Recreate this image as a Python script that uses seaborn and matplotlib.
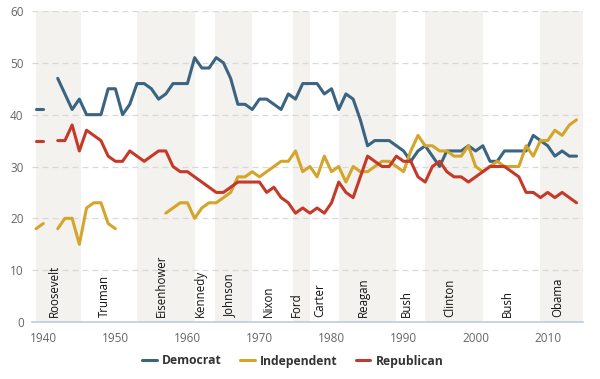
import numpy as np
import pandas as pd
import matplotlib
matplotlib.use("Agg")
import matplotlib.pyplot as plt
import seaborn as sns

# ---------------- data ----------------
years = list(range(1939, 2015))

democrat = [41, 41, None, 47, 44, 41, 43, 40, 40, 40, 45, 45, 40, 42, 46, 46, 45, 43, 44, 46,
            46, 46, 51, 49, 49, 51, 50, 47, 42, 42, 41, 43, 43, 42, 41, 44, 43, 46, 46, 46,
            44, 45, 41, 44, 43, 39, 34, 35, 35, 35, 34, 33, 31, 33, 34, 32, 30, 33, 33, 33,
            34, 33, 34, 31, 31, 33, 33, 33, 33, 36, 35, 34, 32, 33, 32, 32]

independent = [18, 19, None, 18, 20, 20, 15, 22, 23, 23, 19, 18, None, None, None, None, None, None, 21, 22,
               23, 23, 20, 22, 23, 23, 24, 25, 28, 28, 29, 28, 29, 30, 31, 31, 33, 29, 30, 28,
               32, 29, 30, 27, 30, 29, 29, 30, 31, 31, 30, 29, 33, 36, 34, 34, 33, 33, 32, 32,
               34, 30, 29, 30, 31, 30, 30, 30, 34, 32, 35, 35, 37, 36, 38, 39]

republican = [35, 35, None, 35, 35, 38, 33, 37, 36, 35, 32, 31, 31, 33, 32, 31, 32, 33, 33, 30,
              29, 29, 28, 27, 26, 25, 25, 26, 27, 27, 27, 27, 25, 26, 24, 23, 21, 22, 21, 22,
              21, 23, 27, 25, 24, 28, 32, 31, 30, 30, 32, 31, 31, 28, 27, 30, 31, 29, 28, 28,
              27, 28, 29, 30, 30, 30, 29, 28, 25, 25, 24, 25, 24, 25, 24, 23]

series_names = ["Democrat", "Independent", "Republican"]
series_colors = ["#3B6482", "#D4A52A", "#C43929"]

presidents = ["Roosevelt", "Truman", "Eisenhower", "Kennedy", "Johnson", "Nixon", "Ford",
              "Carter", "Reagan", "Bush", "Clinton", "Bush", "Obama"]
term_starts = [1939, 1945.2, 1953, 1961, 1963.85, 1969, 1974.6, 1977, 1981, 1989, 1993, 2001, 2009]

x_ticks = [1940, 1950, 1960, 1970, 1980, 1990, 2000, 2010]
y_ticks = [0, 10, 20, 30, 40, 50, 60]

# ---------------- build long table with segment ids (to keep gaps) ----------------
rows = []
for name, vals in zip(series_names, [democrat, independent, republican]):
    seg = 0
    prev_none = True
    for yr, v in zip(years, vals):
        if v is None:
            prev_none = True
            continue
        if prev_none:
            seg += 1
            prev_none = False
        rows.append({"year": yr, "value": v, "party": name, "seg": f"{name}-{seg}"})
df = pd.DataFrame(rows)

# ---------------- figure ----------------
sns.set_theme(style="white")
plt.rcParams["font.family"] = ["Open Sans", "DejaVu Sans"]

fig = plt.figure(figsize=(6.0, 3.79), dpi=100)
ax = fig.add_axes([32 / 600, 1 - 322 / 379, (583 - 32) / 600, (322 - 11) / 379])

xmin, xmax = 1938.43, 2014.9
ax.set_xlim(xmin, xmax)
ax.set_ylim(0, 60)

# presidency bands
ends = term_starts[1:] + [xmax]
for i, (s, e) in enumerate(zip(term_starts, ends)):
    if i % 2 == 0:
        ax.axvspan(s, e, color="#F3F2EE", lw=0, zorder=0)

# grid
for yv in y_ticks[1:]:
    ax.axhline(yv, color="#D8D8D8", lw=0.9, ls=(0, (4.8, 3.2)), zorder=1)

sns.lineplot(data=df, x="year", y="value", hue="party", units="seg", estimator=None,
             palette=dict(zip(series_names, series_colors)), hue_order=series_names,
             lw=2.2, ax=ax, zorder=3, legend=True)

# president labels at middle of terms
for name, s, e in zip(presidents, term_starts, ends):
    ax.annotate(name, xy=((s + e) / 2, 1.0), xytext=(-3.2, 0), textcoords="offset points",
                rotation=90, ha="center", va="bottom", fontsize=8.3, color="#111111", zorder=4)

# axes styling
for sp in ["left", "right", "top"]:
    ax.spines[sp].set_visible(False)
ax.spines["bottom"].set_color("#C0D0E0")
ax.spines["bottom"].set_linewidth(1.3)
ax.set_xticks(x_ticks)
ax.set_yticks(y_ticks)
ax.tick_params(axis="x", length=6, width=1, color="#C0D0E0", pad=1.5, labelsize=8.5,
               labelcolor="#666666")
ax.tick_params(axis="y", length=0, pad=6, labelsize=8.5, labelcolor="#666666")
ax.set_xlabel("")
ax.set_ylabel("")

handles, labels = ax.get_legend_handles_labels()
ax.get_legend().remove()
leg = fig.legend(handles, labels, loc="center", bbox_to_anchor=(293 / 600, 1 - 361 / 379),
                 ncol=3, frameon=False, handlelength=1.2, handletextpad=0.45,
                 columnspacing=1.5, prop={"weight": "bold", "size": 8.7})
for t in leg.get_texts():
    t.set_color("#333333")
for h in leg.legend_handles:
    h.set_linewidth(2.2)

fig.savefig("out.png", dpi=100)
